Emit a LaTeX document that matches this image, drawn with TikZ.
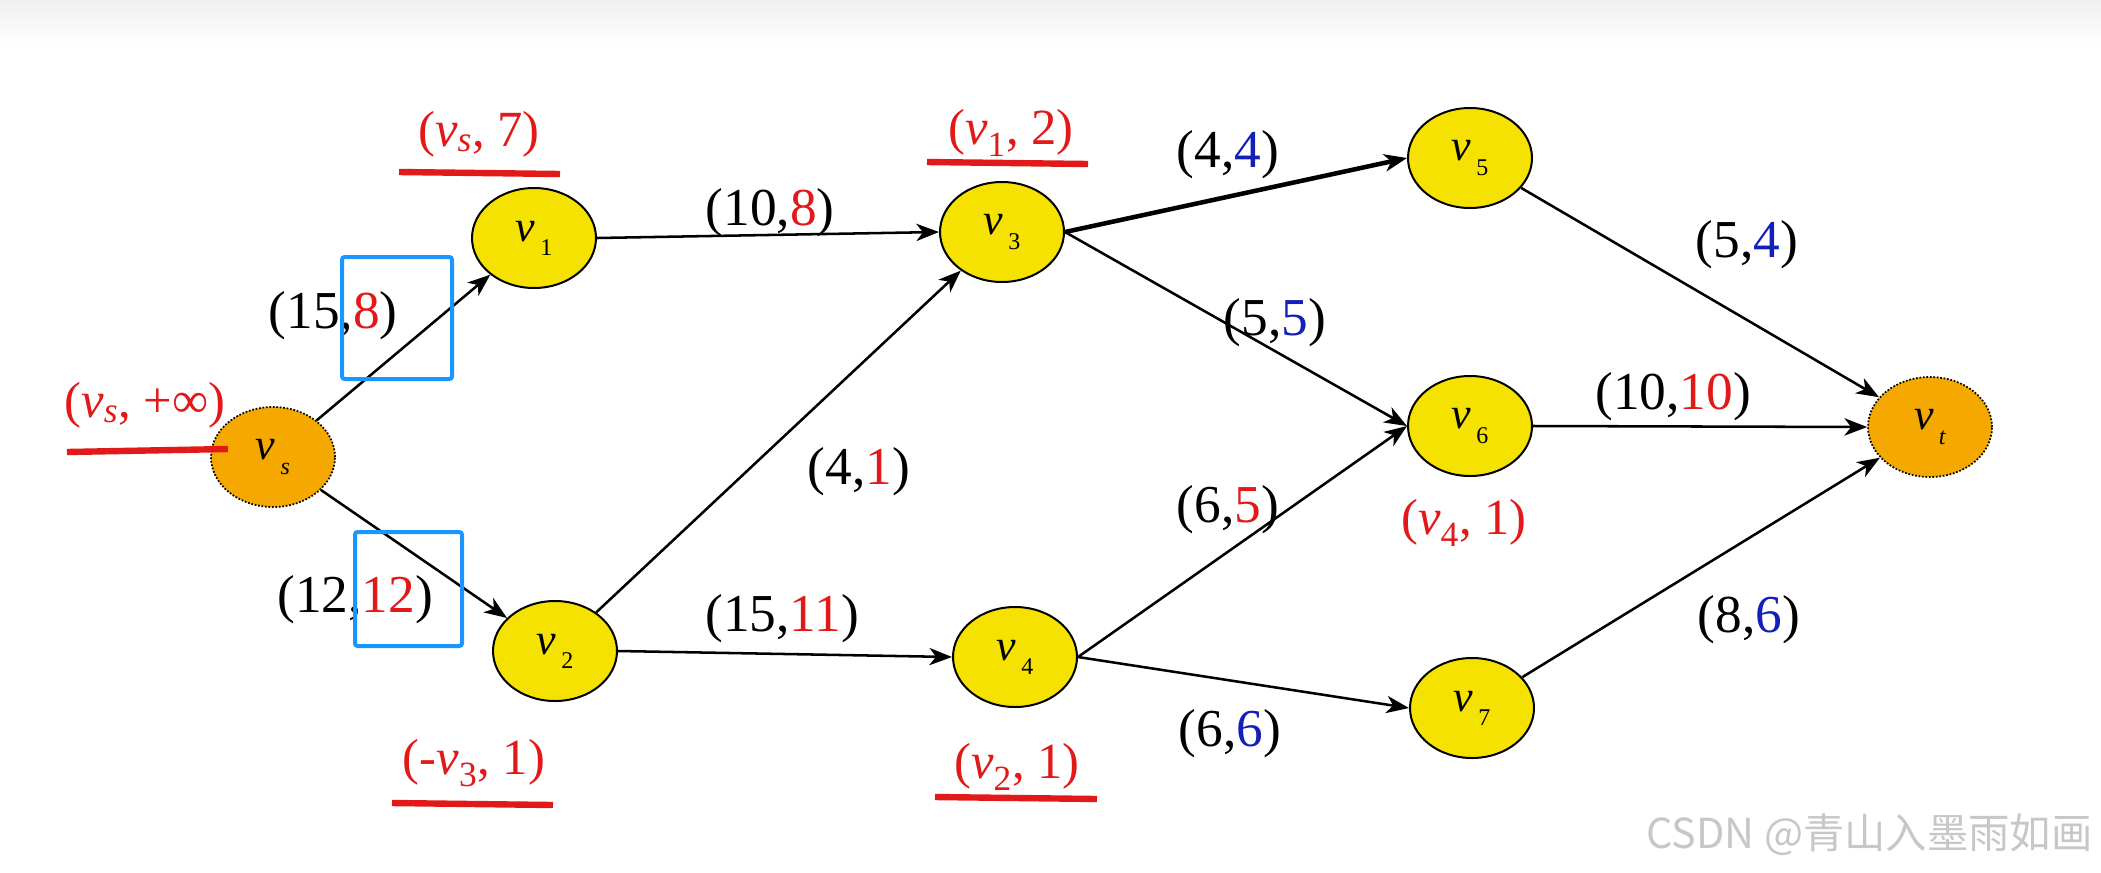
\documentclass[tikz,border=0pt]{standalone}
\usepackage{fontspec}
\setmainfont{Liberation Serif}
\newfontfamily\cjk{Noto Sans CJK SC}
\usetikzlibrary{shapes.geometric,arrows.meta}

\definecolor{nodeyellow}{RGB}{246,226,0}
\definecolor{nodeorange}{RGB}{245,168,0}
\definecolor{labred}{RGB}{225,25,25}
\definecolor{labblue}{RGB}{20,30,185}
\definecolor{boxblue}{RGB}{25,150,255}

% v with index, in the labels and in the vertices
\newcommand{\vx}[1]{\textit{v}\textsubscript{#1}}
\newcommand{\vn}[1]{\textit{v}\kern0.12em\raisebox{-0.32em}{\fontsize{18}{20}\selectfont #1}}

\tikzset{every picture/.style={line width=0.75pt}}

\begin{document}
\begin{tikzpicture}[x=0.75pt,y=0.75pt,yscale=-1,xscale=1,
  vertex/.style={ellipse,draw,line width=1.5pt,fill=nodeyellow,minimum width=93pt,minimum height=75pt,inner sep=0pt,font=\fontsize{33}{36}\selectfont},
  terminal/.style={vertex,fill=nodeorange,line width=1.3pt,dash pattern=on 1.3pt off 1.3pt},
  flow/.style={draw,line width=1.9pt,-{Stealth[length=17pt,width=13pt,inset=5pt]}},
  heavyflow/.style={flow,line width=3.4pt},
  edgelab/.style={inner sep=0pt,font=\fontsize{40}{44}\selectfont},
  marklab/.style={inner sep=0pt,text=labred,font=\fontsize{38}{42}\selectfont},
  underl/.style={draw=labred,line width=4.8pt},
  focusbox/.style={draw=boxblue,line width=3pt,rounded corners=2pt}]
\useasboundingbox (0,0) rectangle (2101,872);
%top band of the screenshot
\shade [top color=black!6,bottom color=white,draw=none] (0,0) rectangle (2101,45);

%Shape: Ellipse (vertices)
\node [terminal] (vs) at (273,457) {\vn{\textit{s}}};
\node [vertex] (v1) at (534,238) {\vn{1}};
\node [vertex] (v2) at (555,651) {\vn{2}};
\node [vertex] (v3) at (1002,232) {\vn{3}};
\node [vertex] (v4) at (1015,657) {\vn{4}};
\node [vertex] (v5) at (1470,158) {\vn{5}};
\node [vertex] (v6) at (1470,426) {\vn{6}};
\node [vertex] (v7) at (1472,708) {\vn{7}};
\node [terminal] (vt) at (1930,427) {\vn{\textit{t}}};

%Straight Lines (arcs)
\draw [flow] (vs) -- (v1);
\draw [flow] (vs) -- (v2);
\draw [flow] (v1.east) -- (v3.west);
\draw [flow] (v2) -- (v3);
\draw [flow] (v2.east) -- (v4.west);
\draw [heavyflow] (v3.east) -- (v5.west);
\draw [flow] (v3.east) -- (v6.west);
\draw [flow] (v4.east) -- (v6.west);
\draw [flow] (v4.east) -- (v7.west);
\draw [flow] (v5) -- (vt);
\draw [flow] (v6.east) -- (vt.west);
\draw [flow] (v7) -- (vt);

% Text Node (capacity, flow)
\node [edgelab] (c-s1) at (333,316) {(15,\textcolor{labred}{8})};
\node [edgelab] (c-s2) at (355,600) {(12,\textcolor{labred}{12})};
\node [edgelab] (c-13) at (770,213) {(10,\textcolor{labred}{8})};
\node [edgelab] (c-23) at (859,472) {(4,\textcolor{labred}{1})};
\node [edgelab] (c-24) at (782,619) {(15,\textcolor{labred}{11})};
\node [edgelab] (c-35) at (1228,155) {(4,\textcolor{labblue}{4})};
\node [edgelab] (c-36) at (1275,323) {(5,\textcolor{labblue}{5})};
\node [edgelab] (c-46) at (1228,510) {(6,\textcolor{labred}{5})};
\node [edgelab] (c-47) at (1230,734) {(6,\textcolor{labblue}{6})};
\node [edgelab] (c-5t) at (1747,245) {(5,\textcolor{labblue}{4})};
\node [edgelab] (c-6t) at (1673,397) {(10,\textcolor{labred}{10})};
\node [edgelab] (c-7t) at (1749,620) {(8,\textcolor{labblue}{6})};

% Text Node (labels)
\node [marklab] (m-s) at (145,405) {(\vx{\textit{s}}, +∞)};
\node [marklab] (m-1) at (479,134) {(\vx{\textit{s}}, 7)};
\node [marklab] (m-3) at (1011,133) {(\vx{1}, 2)};
\node [marklab] (m-2) at (474,763) {(-\vx{3}, 1)};
\node [marklab] (m-4) at (1017,767) {(\vx{2}, 1)};
\node [marklab] (m-6) at (1464,523) {(\vx{4}, 1)};

%Straight Lines (underlines)
\draw [underl] (67,452) -- (228,449);
\draw [underl] (399,172) -- (560,174);
\draw [underl] (927,162) -- (1088,164);
\draw [underl] (392,803) -- (553,805);
\draw [underl] (935,797) -- (1097,799);

%Shape: Rectangle (highlight)
\draw [focusbox] (342,257) rectangle (452,379);
\draw [focusbox] (355,532) rectangle (462,646);

% Text Node (watermark)
\node [anchor=east,inner sep=0pt,text=black!22,font=\cjk\fontsize{31}{36}\selectfont] (wm) at (2093,835) {CSDN @青山入墨雨如画};

\end{tikzpicture}
\end{document}
